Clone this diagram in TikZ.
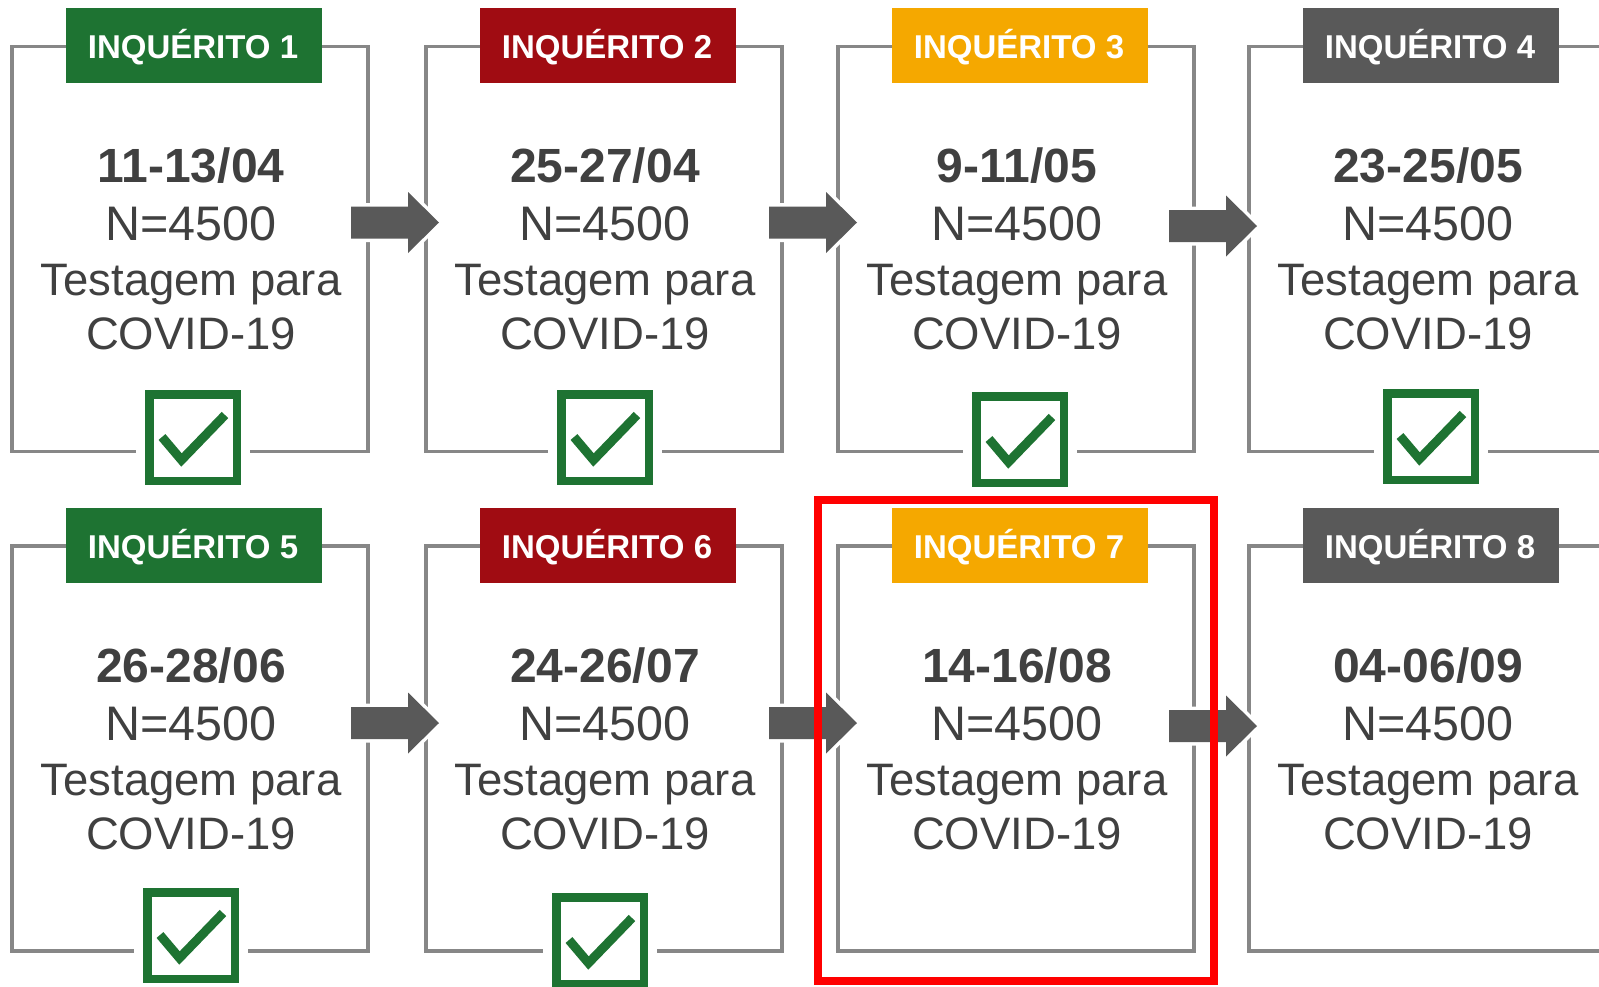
\documentclass[tikz,border=0pt]{standalone}
\usepackage{fontspec}
\setmainfont{Liberation Sans}
\definecolor{hgreen}{RGB}{30,115,50}
\definecolor{hred}{RGB}{160,12,18}
\definecolor{horange}{RGB}{245,168,0}
\definecolor{hgray}{RGB}{89,89,89}
\definecolor{framegray}{RGB}{135,135,135}
\definecolor{txtgray}{RGB}{64,64,64}
\definecolor{chkgreen}{RGB}{30,115,50}
\tikzset{
  framebox/.style={draw=framegray, line width=3.5pt, minimum width=356pt, minimum height=405pt, inner sep=0pt, outer sep=0pt},
  headerbox/.style={minimum width=256pt, minimum height=75pt, inner sep=0pt, outer sep=0pt},
  headertxt/.style={anchor=base, inner sep=0pt, text=white, font=\fontsize{33}{33}\selectfont\bfseries},
  datetxt/.style={anchor=base, inner sep=0pt, text=txtgray, font=\fontsize{48}{48}\selectfont\bfseries},
  ntxt/.style={anchor=base, inner sep=0pt, text=txtgray, font=\fontsize{48.5}{48.5}\selectfont},
  ltxt/.style={anchor=base, inner sep=0pt, text=txtgray, font=\fontsize{45.5}{45.5}\selectfont},
  blockarrow/.pic={
    \path[draw=white, fill=white, line width=7pt] (0,-16) -- (57,-16) -- (57,-30.5) -- (88,0) -- (57,30.5) -- (57,16) -- (0,16) -- cycle;
    \fill[hgray] (0,-16) -- (57,-16) -- (57,-30.5) -- (88,0) -- (57,30.5) -- (57,16) -- (0,16) -- cycle;
  },
  checkbox/.pic={
    \fill[white] (-9,-3) rectangle (105,100);
    \draw[chkgreen, line width=8.5pt] (4.25,4.25) rectangle (91.75,90.75);
    \draw[chkgreen, line width=9pt] (17,47) -- (36.5,70) -- (80,25);
  }
}
% #1 id, #2 left, #3 top, #4 header colour, #5 number, #6 date
\newcommand\inqbox[6]{%
  \node[framebox] (f#1) at (#2+178, #3+202.5) {};
  \node[headerbox, fill=#4] (h#1) at (#2+182, #3-1) {};
  \node[headertxt] (ht#1) at (#2+181, #3+12) {INQUÉRITO #5};
  \node[datetxt] (d#1) at (#2+179, #3+136) {#6};
  \node[ntxt] (n#1) at (#2+179, #3+194) {N=4500};
  \node[ltxt] (t#1) at (#2+179, #3+249) {Testagem para};
  \node[ltxt] (c#1) at (#2+179, #3+303) {COVID-19};
}
\begin{document}
\begin{tikzpicture}[x=1pt, y=-1pt]
\fill[white] (0,0) rectangle (1599,986);
\useasboundingbox (0,0) rectangle (1599,986);
\inqbox{1}{12}{46.5}{hgreen}{1}{11-13/04}
\inqbox{2}{426}{46.5}{hred}{2}{25-27/04}
\inqbox{3}{838}{46.5}{horange}{3}{9-11/05}
\inqbox{4}{1249}{46.5}{hgray}{4}{23-25/05}
\inqbox{5}{12}{546}{hgreen}{5}{26-28/06}
\inqbox{6}{426}{546}{hred}{6}{24-26/07}
\inqbox{7}{838}{546}{horange}{7}{14-16/08}
\inqbox{8}{1249}{546}{hgray}{8}{04-06/09}
% check boxes
\pic at (145,390) {checkbox};
\pic at (557,390) {checkbox};
\pic at (972,392) {checkbox};
\pic at (1383,389) {checkbox};
\pic at (143,888) {checkbox};
\pic at (552,893) {checkbox};
% block arrows
\pic at (351,222.5) {blockarrow};
\pic at (769,222.5) {blockarrow};
\pic at (1169,226) {blockarrow};
\pic at (351,723) {blockarrow};
\pic at (769,723) {blockarrow};
\pic at (1169,726) {blockarrow};
% highlight
\draw[red, line width=8.5pt] (818,500) rectangle (1214,981);
\end{tikzpicture}
\end{document}
